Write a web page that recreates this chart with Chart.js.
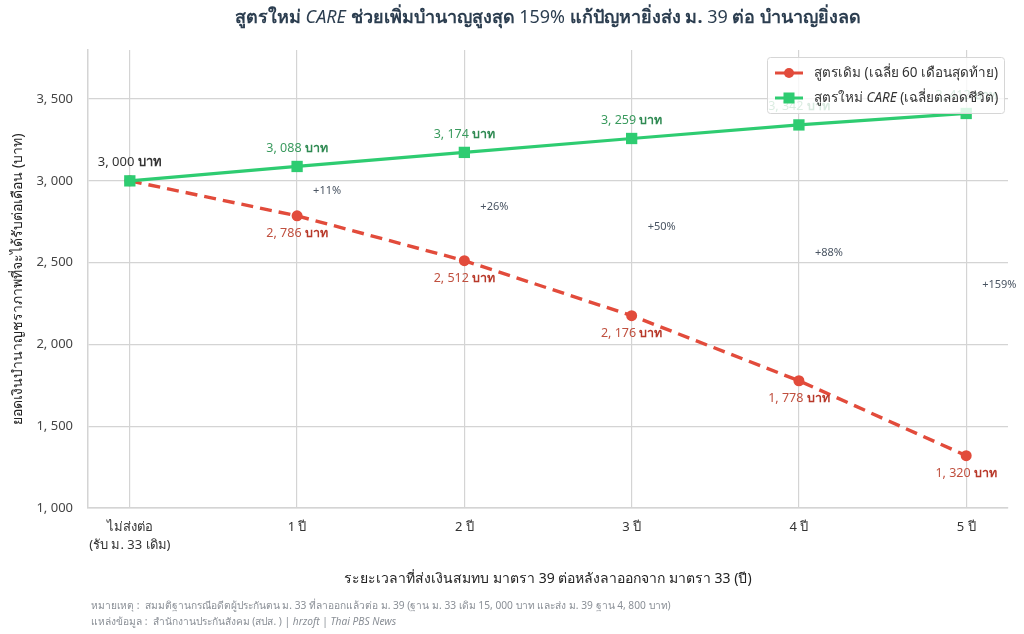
<!DOCTYPE html>
<html lang="th">
<head>
  <meta charset="UTF-8">
  <title>สูตรใหม่ CARE</title>
  <script src="https://cdn.jsdelivr.net/npm/chart.js"></script>
  <style>
    html, body { margin: 0; padding: 0; background: #fff; }
    #wrap { width: 1024px; height: 634px; }
  </style>
</head>
<body>
  <div id="wrap"><canvas id="chart" width="1024" height="634"></canvas></div>

  <script>
    // data
    const years = [0, 1, 2, 3, 4, 5];
    const xLabels = [['ไม่ส่งต่อ', '(รับ ม. 33 เดิม)'], '1 ปี', '2 ปี', '3 ปี', '4 ปี', '5 ปี'];
    const oldFormula = [3000, 2786, 2512, 2176, 1778, 1320];
    const careFormula = [3000, 3088, 3174, 3259, 3342, 3412];
    const gainPct = [null, 11, 26, 50, 88, 159];
    const yTicks = [1000, 1500, 2000, 2500, 3000, 3500];

    const FONT = "'Noto Sans', 'DejaVu Sans', sans-serif";
    const RED = '#e24b3b';
    const GREEN = '#2ecc71';

    function fmt(n) {
      return n.toLocaleString('en-US').replace(',', ', ');
    }

    // draw a row of text pieces with different fonts
    function drawRuns(ctx, runs, x, y, align) {
      let total = 0;
      runs.forEach(r => { ctx.font = r.f; r.w = ctx.measureText(r.t).width; total += r.w; });
      let cx = align === 'center' ? x - total / 2 : (align === 'right' ? x - total : x);
      ctx.textAlign = 'left';
      ctx.textBaseline = 'middle';
      runs.forEach(r => {
        ctx.font = r.f;
        ctx.fillStyle = r.c;
        ctx.fillText(r.t, cx, y);
        cx += r.w;
      });
      return total;
    }

    const extras = {
      id: 'extras',
      afterDatasetsDraw(chart) {
        const ctx = chart.ctx;
        const xs = chart.scales.x, ys = chart.scales.y;
        ctx.save();
        years.forEach((yr, i) => {
          const px = xs.getPixelForValue(yr);
          if (i === 0) {
            drawRuns(ctx, [
              { t: fmt(careFormula[0]) + ' ', f: '13px ' + FONT, c: '#333' },
              { t: 'บาท', f: 'bold 13px ' + FONT, c: '#333' }
            ], px, ys.getPixelForValue(careFormula[0]) - 19, 'center');
            return;
          }
          drawRuns(ctx, [
            { t: fmt(careFormula[i]) + ' ', f: '12.5px ' + FONT, c: '#3a9a5e' },
            { t: 'บาท', f: 'bold 12.5px ' + FONT, c: '#2f8a52' }
          ], px, ys.getPixelForValue(careFormula[i]) - 18, 'center');
          drawRuns(ctx, [
            { t: fmt(oldFormula[i]) + ' ', f: '12.5px ' + FONT, c: '#c0503f' },
            { t: 'บาท', f: 'bold 12.5px ' + FONT, c: '#b8392a' }
          ], px, ys.getPixelForValue(oldFormula[i]) + 18, 'center');
          const mid = (careFormula[i] + oldFormula[i]) / 2;
          ctx.font = '11px ' + FONT;
          ctx.fillStyle = '#4a5563';
          ctx.textAlign = 'left';
          ctx.fillText('+' + gainPct[i] + '%', px + 16, ys.getPixelForValue(mid));
        });
        ctx.restore();
      },
      afterDraw(chart) {
        const ctx = chart.ctx;
        ctx.save();
        // title
        const tb = 'bold 18px ' + FONT, tr = '18px ' + FONT, ti = 'italic 18px ' + FONT;
        const tc = '#2c3e50';
        drawRuns(ctx, [
          { t: 'สูตรใหม่ ', f: tb, c: tc },
          { t: 'CARE', f: ti, c: tc },
          { t: ' ช่วยเพิ่มบำนาญสูงสุด ', f: tb, c: tc },
          { t: '159%', f: tr, c: tc },
          { t: ' แก้ปัญหายิ่งส่ง ม. ', f: tb, c: tc },
          { t: '39', f: tr, c: tc },
          { t: ' ต่อ บำนาญยิ่งลด', f: tb, c: tc }
        ], 548, 18, 'center');

        // legend box inside the plot
        const lx = 767, ly = 57, lw = 237, lh = 56;
        ctx.fillStyle = 'rgba(255,255,255,0.82)';
        ctx.strokeStyle = '#d6d6d6';
        ctx.lineWidth = 1;
        ctx.beginPath();
        ctx.roundRect(lx + 0.5, ly + 0.5, lw, lh, 3);
        ctx.fill();
        ctx.stroke();
        const rows = [
          { color: RED, shape: 'circle', runs: [
            { t: 'สูตรเดิม (เฉลี่ย 60 เดือนสุดท้าย)', f: '13.5px ' + FONT, c: '#333' }] },
          { color: GREEN, shape: 'rect', runs: [
            { t: 'สูตรใหม่ ', f: '13.5px ' + FONT, c: '#333' },
            { t: 'CARE', f: 'italic 13.5px ' + FONT, c: '#333' },
            { t: ' (เฉลี่ยตลอดชีวิต)', f: '13.5px ' + FONT, c: '#333' }] }
        ];
        rows.forEach((r, k) => {
          const y = ly + 16 + k * 25;
          ctx.strokeStyle = r.color;
          ctx.lineWidth = 3;
          ctx.beginPath();
          ctx.moveTo(775, y);
          ctx.lineTo(803, y);
          ctx.stroke();
          ctx.fillStyle = r.color;
          if (r.shape === 'circle') {
            ctx.beginPath();
            ctx.arc(789, y, 5, 0, Math.PI * 2);
            ctx.fill();
          } else {
            ctx.fillRect(783.5, y - 5.5, 11, 11);
          }
          drawRuns(ctx, r.runs, 814, y, 'left');
        });

        // notes under the chart
        const nf = '10.2px ' + FONT, ni = 'italic 10.2px ' + FONT, nc = '#8a8f96';
        drawRuns(ctx, [
          { t: 'หมายเหตุ :  สมมติฐานกรณีอดีตผู้ประกันตน ม. 33 ที่ลาออกแล้วต่อ ม. 39 (ฐาน ม. 33 เดิม 15, 000 บาท และส่ง ม. 39 ฐาน 4, 800 บาท)', f: nf, c: nc }
        ], 91, 606, 'left');
        drawRuns(ctx, [
          { t: 'แหล่งข้อมูล :  สำนักงานประกันสังคม (สปส. ) | ', f: nf, c: nc },
          { t: 'hrzoft', f: ni, c: nc },
          { t: ' | ', f: nf, c: nc },
          { t: 'Thai PBS News', f: ni, c: nc }
        ], 91, 622, 'left');
        ctx.restore();
      }
    };

    const ctx = document.getElementById('chart').getContext('2d');
    const chart = new Chart(ctx, {
      type: 'line',
      data: {
        datasets: [
          {
            label: 'สูตรเดิม (เฉลี่ย 60 เดือนสุดท้าย)',
            data: years.map((x, i) => ({ x: x, y: oldFormula[i] })),
            borderColor: RED,
            backgroundColor: RED,
            borderWidth: 3.4,
            borderDash: [12, 7],
            pointStyle: 'circle',
            pointRadius: 5.5,
            pointBorderWidth: 0,
            fill: false,
            order: 1
          },
          {
            label: 'สูตรใหม่ CARE (เฉลี่ยตลอดชีวิต)',
            data: years.map((x, i) => ({ x: x, y: careFormula[i] })),
            borderColor: GREEN,
            backgroundColor: GREEN,
            borderWidth: 3.2,
            pointStyle: 'rect',
            pointRadius: 8,
            pointBorderWidth: 0,
            fill: false,
            order: 0
          }
        ]
      },
      options: {
        responsive: false,
        animation: false,
        layout: { padding: { top: 50, right: 16, left: 0, bottom: 0 } },
        plugins: {
          legend: { display: false },
          tooltip: { enabled: false }
        },
        scales: {
          x: {
            type: 'linear',
            min: -0.25,
            max: 5.25,
            afterBuildTicks: s => { s.ticks = years.map(v => ({ value: v })); },
            afterFit: s => { s.height = 126; },
            ticks: {
              callback: v => xLabels[v],
              color: '#333',
              font: { family: FONT, size: 13, lineHeight: 1.4 },
              padding: 10,
              maxRotation: 0,
              autoSkip: false
            },
            grid: { color: '#d4d4d4', lineWidth: 1.2, drawTicks: false },
            border: { color: '#d4d4d4', width: 1.5 },
            title: {
              display: true,
              text: 'ระยะเวลาที่ส่งเงินสมทบ มาตรา 39 ต่อหลังลาออกจาก มาตรา 33 (ปี)',
              color: '#222',
              font: { family: FONT, size: 14 },
              padding: { top: 0, bottom: 47 }
            }
          },
          y: {
            min: 1000,
            max: 3800,
            afterBuildTicks: s => { s.ticks = yTicks.map(v => ({ value: v })); },
            afterFit: s => { s.width = 88; },
            ticks: {
              callback: v => fmt(v),
              color: '#444',
              font: { family: FONT, size: 13 },
              padding: 15
            },
            grid: { color: '#d4d4d4', lineWidth: 1.2, drawTicks: false },
            border: { color: '#d4d4d4', width: 1.5 },
            title: {
              display: true,
              text: 'ยอดเงินบำนาญชราภาพที่จะได้รับต่อเดือน (บาท)',
              color: '#222',
              font: { family: FONT, size: 14 },
              padding: { top: 10, bottom: 0 }
            }
          }
        }
      },
      plugins: [extras]
    });
  </script>
</body>
</html>
